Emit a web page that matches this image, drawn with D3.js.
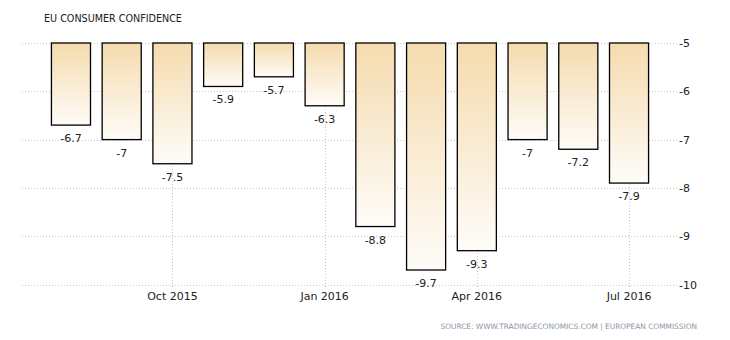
<!DOCTYPE html>
<html><head><meta charset="utf-8">
<script src="https://cdn.jsdelivr.net/npm/d3@7"></script>
<style>body{margin:0;background:#fff}svg{display:block}</style>
</head><body>
<script>
const categories = ["Aug 2015","Sep 2015","Oct 2015","Nov 2015","Dec 2015","Jan 2016","Feb 2016","Mar 2016","Apr 2016","May 2016","Jun 2016","Jul 2016"];
const values = [-6.7,-7,-7.5,-5.9,-5.7,-6.3,-8.8,-9.7,-9.3,-7,-7.2,-7.9];
const valueLabels = ["-6.7","-7","-7.5","-5.9","-5.7","-6.3","-8.8","-9.7","-9.3","-7","-7.2","-7.9"];
const xTickLabels = ["Oct 2015","Jan 2016","Apr 2016","Jul 2016"];
const yTicks = [-5,-6,-7,-8,-9,-10];
const title = "EU CONSUMER CONFIDENCE";
const source = "SOURCE: WWW.TRADINGECONOMICS.COM | EUROPEAN COMMISSION";

const W = 730, H = 340;
const font = "Tahoma, 'DejaVu Sans', sans-serif";
const svg = d3.select("body").append("svg").attr("width", W).attr("height", H);

const x = d3.scaleBand().domain(categories).range([45.6, 654.4]).paddingInner(0.23).paddingOuter(0.115);
const y = d3.scaleLinear().domain([-5, -10]).range([43, 284.5]);

const defs = svg.append("defs");
const grad = defs.append("linearGradient").attr("id","bg").attr("x1",0).attr("y1",0).attr("x2",0).attr("y2",1);
grad.append("stop").attr("offset","0%").attr("stop-color","#f5dbae");
grad.append("stop").attr("offset","100%").attr("stop-color","#fefcf8");

// horizontal gridlines
svg.append("g").selectAll("line").data(yTicks).join("line")
  .attr("x1", 22).attr("x2", 677)
  .attr("y1", d => Math.round(y(d))+0.5).attr("y2", d => Math.round(y(d))+0.5)
  .attr("stroke", "#c8c8c8").attr("stroke-dasharray", "1,2");

// vertical gridlines
svg.append("g").selectAll("line").data(xTickLabels).join("line")
  .attr("x1", d => Math.round(x(d) + x.bandwidth()/2)+0.5).attr("x2", d => Math.round(x(d) + x.bandwidth()/2)+0.5)
  .attr("y1", 43).attr("y2", 289)
  .attr("stroke", "#c8c8c8").attr("stroke-dasharray", "1,2");

// bars
svg.append("g").selectAll("rect").data(values).join("rect")
  .attr("x", (d,i) => x(categories[i]))
  .attr("y", y(-5))
  .attr("width", x.bandwidth())
  .attr("height", d => y(d) - y(-5))
  .attr("fill", "url(#bg)")
  .attr("stroke", "#000").attr("stroke-width", 1.3);

// value labels
svg.append("g").selectAll("text").data(values).join("text")
  .attr("x", (d,i) => x(categories[i]) + x.bandwidth()/2)
  .attr("y", d => y(d) + 17)
  .attr("text-anchor", "middle")
  .attr("font-family", font).attr("font-size", 11).attr("fill", "#222")
  .text((d,i) => valueLabels[i]);

// y tick labels
svg.append("g").selectAll("text").data(yTicks).join("text")
  .attr("x", 679).attr("y", d => y(d) + 4)
  .attr("font-family", font).attr("font-size", 11).attr("fill", "#222")
  .text(d => String(d));

// x tick labels
svg.append("g").selectAll("text").data(xTickLabels).join("text")
  .attr("x", d => x(d) + x.bandwidth()/2).attr("y", 300)
  .attr("text-anchor", "middle")
  .attr("font-family", font).attr("font-size", 11).attr("fill", "#222")
  .text(d => d);

svg.append("text").attr("x", 44).attr("y", 21.5)
  .attr("font-family", font).attr("font-size", 9.6).attr("fill", "#222")
  .text(title);

svg.append("text").attr("x", 697).attr("y", 329).attr("text-anchor","end")
  .attr("font-family", font).attr("font-size", 7.4).attr("fill", "#8a96a6")
  .text(source);
</script>
</body></html>
